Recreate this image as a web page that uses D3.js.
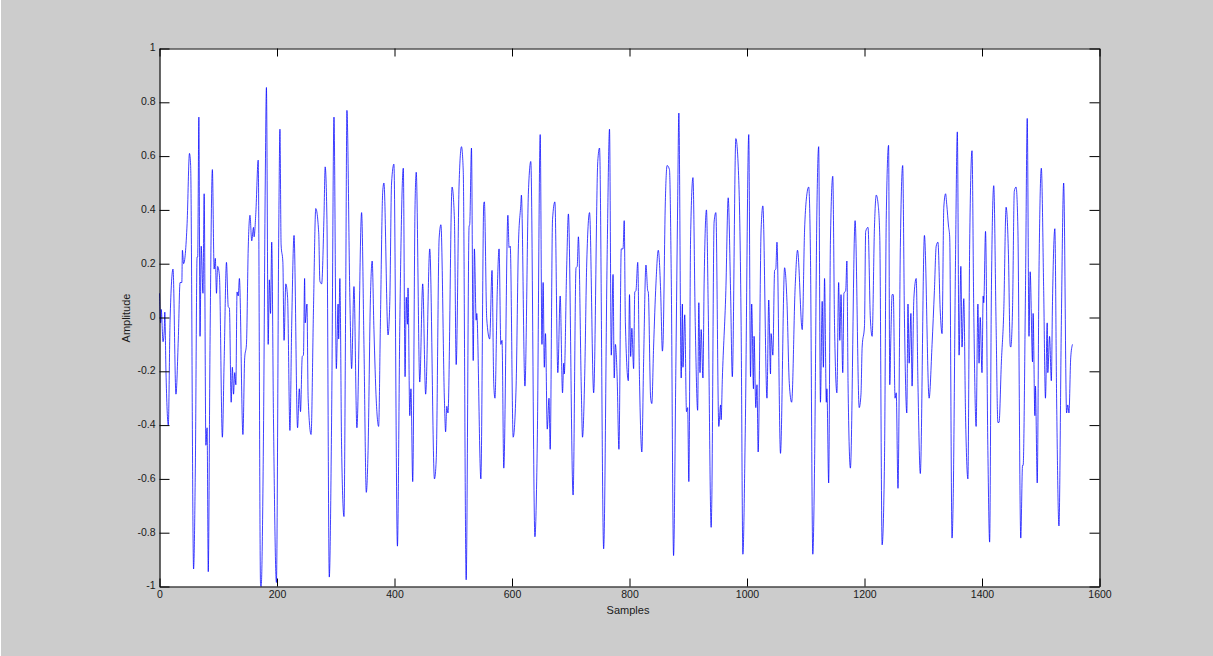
<!DOCTYPE html>
<html>
<head>
<meta charset="utf-8">
<script src="https://cdn.jsdelivr.net/npm/d3@7"></script>
<style>
html,body{margin:0;padding:0;background:#cccccc;overflow:hidden}
svg{display:block}
text{font-family:"Liberation Sans",Arial,sans-serif;fill:#1a1a1a}
</style>
</head>
<body>
<svg id="chart" width="1213" height="656"></svg>
<script>
const xTicks = [0,200,400,600,800,1000,1200,1400,1600];
const yTicks = [-1,-0.8,-0.6,-0.4,-0.2,0,0.2,0.4,0.6,0.8,1];
const xLabel = "Samples";
const yLabel = "Amplitude";
const samples = [
0,2,3,6,8,9,11,15,18,23,28,32,35,38,39,41,47,51,53,58,61,64,65,67,69,71,74,76,79,81,83,86,90,93,95,97,99,102,107,110,114,117,119,122,124,126,128,130,132,134,136,142,145,148,151,154,157,160,161,164,168,172,173,177,180,182,185,187,189,191,194,199,203,205,207,210,212,215,218,222,225,229,235,238,240,243,245,247,248,251,253,258,262,266,271,273,276,280,282,285,289,293,297,301,304,305,307,310,314,317,
319,324,327,331,336,344,348,352,355,359,362,365,369,373,376,380,382,389,392,395,399,405,409,415,418,420,422,423,426,428,431,435,437,443,448,453,460,468,471,476,479,485,487,489,491,498,502,505,510,514,517,522,527,528,531,534,536,539,540,547,552,553,557,562,566,569,571,575,578,581,583,586,593,595,597,602,607,611,615,616,622,628,632,639,643,
648,651,653,655,657,660,663,665,669,673,678,682,686,688,689,693,696,704,709,711,713,718,720,724,727,732,739,746,749,756,762,766,769,772,774,776,779,782,786,789,791,793,798,800,802,804,807,809,811,814,817,821,824,828,831,832,836,838,841,845,849,853,856,857,861,864,868,871,875,879,882,884,888,890,891,894,897,899,901,904,908,912,916,918,920,922,925,927,931,934,939,940,944,947,952,955,956,958,964,
968,972,975,981,986,990,993,997,1003,1006,1008,1011,1012,1015,1017,1019,1024,1027,1034,1037,1040,1041,1044,1047,1049,1051,1057,1064,1068,1072,1076,1082,1086,1094,1098,1101,1105,1108,1112,1115,1119,1122,1125,1128,1130,1132,1135,1136,1139,1142,1146,1149,1153,1156,1158,1160,1163,1165,1168,1170,1172,1176,1184,1191,1194,1196,1200,1202,1206,1210,1213,1217,1220,1223,1226,1230,1234,1237,1241,1243,1245,1247,1249,1252,1254,1257,1261,1265,1268,1272,1274,1276,1279,
1281,1284,1288,1291,1295,1302,1310,1315,1319,1322,1325,1329,1332,1335,1338,1340,1343,1345,1349,1351,1355,1358,1361,1364,1366,1369,1372,1376,1379,1383,1386,1390,1393,1395,1397,1400,1402,1403,1406,1410,1413,1416,1420,1424,1427,1429,1433,1437,1441,1445,1448,1449,1452,1455,1458,1461,1466,1469,1470,1474,1477,1480,1482,1486,1487,1490,1491,1494,1497,1501,1505,1508,1511,1512,1515,1518,1520,1524,1527,1531,1535,1539,1544,1546,1548,1551,1554];
const amplitudes = [
0.09,-0.02,0.03,-0.09,-0.05,0.02,-0.2,-0.40,-0.01,0.18,-0.285,-0.08,0.13,0.13,0.25,0.20,0.35,0.61,0.565,-0.935,-0.56,0.225,0.225,0.745,-0.07,0.265,0.09,0.46,-0.475,-0.41,-0.945,-0.1,0.55,0.18,0.22,0.09,0.19,0.155,-0.445,-0.165,0.205,0.04,0.035,-0.315,-0.185,-0.285,-0.205,-0.25,0.095,0.08,0.145,-0.435,-0.15,-0.1,0.255,0.38,0.285,0.335,0.30,0.39,0.585,-0.995,-1.0,-0.43,0.5,0.855,-0.1,0.14,0.015,0.28,-0.375,-0.985,0.325,0.70,0.27,0.205,-0.085,0.125,0.075,-0.42,-0.03,0.305,-0.41,-0.265,-0.35,-0.145,-0.14,0.145,-0.02,0.05,-0.3,-0.435,0.02,0.405,0.315,0.135,0.125,0.38,0.56,0.365,-0.965,-0.365,0.745,-0.19,0.05,-0.08,0.145,-0.49,-0.74,0.10,
0.77,0.075,-0.19,0.115,-0.41,0.39,-0.10,-0.65,-0.495,0.07,0.21,-0.045,-0.31,-0.405,-0.02,0.47,0.50,-0.065,0.06,0.5,0.57,-0.85,-0.03,0.555,-0.22,0.075,-0.025,0.11,-0.365,-0.265,-0.61,0.42,0.54,-0.24,0.125,-0.285,0.255,-0.60,-0.53,0.295,0.345,-0.31,-0.425,-0.33,-0.355,0.485,0.365,-0.175,0.5,0.635,0.545,-0.975,0.34,0.345,0.63,-0.16,0.255,-0.01,0.015,-0.6,0.425,0.43,-0.005,-0.08,0.175,-0.25,-0.30,0.105,0.255,-0.10,-0.085,-0.56,0.38,0.26,0.265,-0.445,-0.255,0.275,0.42,0.455,-0.255,0.47,0.58,-0.815,-0.47,
0.68,-0.10,0.13,-0.185,-0.06,-0.415,-0.30,-0.49,0.365,0.43,-0.205,0.08,-0.28,-0.17,-0.21,0.18,0.385,-0.66,0.185,0.19,0.30,-0.27,-0.445,-0.19,0.185,0.39,-0.28,0.58,0.63,-0.86,0.235,0.70,-0.14,0.16,-0.225,-0.10,-0.225,-0.49,0.255,0.255,0.36,-0.02,-0.235,0.085,-0.145,-0.04,-0.19,0.095,0.10,0.205,-0.23,-0.5,-0.165,0.195,0.10,0.095,-0.30,-0.32,-0.11,0.125,0.25,0.10,-0.125,-0.10,0.43,0.565,0.55,0.165,-0.885,-0.165,0.43,0.76,-0.225,0.05,-0.185,0.01,-0.35,-0.335,-0.61,0.30,0.52,-0.03,-0.345,0.055,-0.205,-0.045,-0.225,0.125,0.40,0.035,-0.78,-0.695,0.355,0.39,-0.405,-0.325,-0.38,-0.23,0.10,
0.445,0.10,-0.22,0.665,0.51,-0.03,-0.88,-0.43,0.68,-0.22,0.05,-0.265,-0.07,-0.335,-0.25,-0.50,0.325,0.415,-0.30,0.065,-0.21,-0.06,-0.14,0.175,0.18,0.28,-0.505,0.185,0.06,-0.245,-0.315,0.115,0.25,-0.045,0.325,0.44,0.485,0.235,-0.88,-0.55,0.40,0.635,-0.315,0.06,-0.185,0.145,-0.315,-0.265,-0.615,0.285,0.525,-0.03,-0.28,0.13,-0.085,0.085,-0.205,0.09,0.10,0.21,-0.245,-0.56,0.36,-0.335,-0.285,-0.11,-0.03,0.32,0.335,-0.005,-0.07,0.34,0.455,0.425,0.30,-0.845,-0.535,0.365,0.64,-0.25,-0.06,0.085,0.085,-0.30,-0.28,-0.635,0.26,0.565,-0.005,-0.355,0.05,-0.17,0.015,
-0.255,0.07,0.145,-0.25,-0.58,0.305,-0.30,-0.10,0.10,0.265,0.28,0.02,-0.06,0.41,0.46,0.42,0.34,0.30,-0.82,-0.67,0.235,0.69,-0.14,0.19,-0.11,0.07,-0.365,-0.60,0.27,0.62,0.02,-0.405,0.05,-0.17,0.0,-0.205,0.08,0.055,0.32,-0.495,-0.835,0.10,0.49,-0.03,-0.39,-0.39,-0.165,0.02,0.41,0.235,-0.105,-0.11,0.035,0.47,0.485,0.34,-0.82,-0.55,-0.55,0.10,0.74,-0.07,0.17,-0.165,0.015,-0.365,-0.255,-0.615,0.165,0.555,0.10,-0.30,-0.02,-0.205,-0.07,-0.235,0.06,0.33,-0.30,-0.775,-0.03,0.50,-0.355,-0.325,-0.355,-0.15,-0.10];

const frameLeft = 159.5, frameRight = 1099.5, frameTop = 48.5, frameBottom = 586.5;
const x = d3.scaleLinear().domain([0,1600]).range([frameLeft,frameRight]);
const y = d3.scaleLinear().domain([-1,1]).range([frameBottom,frameTop]);
const svg = d3.select("#chart");

svg.append("rect").attr("x",0).attr("y",0).attr("width",1213).attr("height",656).attr("fill","#cccccc");
svg.append("rect").attr("x",0).attr("y",0).attr("width",1).attr("height",656).attr("fill","#ffffff");
svg.append("rect").attr("x",frameLeft).attr("y",frameTop).attr("width",frameRight-frameLeft).attr("height",frameBottom-frameTop).attr("fill","#ffffff");

const points = samples.map((s,i)=>[s,amplitudes[i]]);
svg.append("path").datum(points)
  .attr("fill","none").attr("stroke","#0000ff").attr("stroke-width",0.75)
  .attr("d",d3.line().curve(d3.curveMonotoneX).x(d=>x(d[0])).y(d=>y(d[1])));

function styleAxis(g){
  g.selectAll(".domain").attr("stroke","#000").attr("stroke-width",1.2);
  g.selectAll(".tick line").attr("stroke","#000");
  g.selectAll("text").attr("fill","#1a1a1a").style("font-size","10.5px")
   .style("font-family",'"Liberation Sans",Arial,sans-serif');
}
const fmt = d=>String(d);
svg.append("g").attr("transform",`translate(0,${frameBottom})`)
  .call(d3.axisBottom(x).tickValues(xTicks).tickFormat(fmt).tickSizeInner(-8).tickSizeOuter(0).tickPadding(4)).call(styleAxis);
svg.append("g").attr("transform",`translate(0,${frameTop})`)
  .call(d3.axisTop(x).tickValues(xTicks).tickFormat("").tickSizeInner(-8).tickSizeOuter(0)).call(styleAxis);
const yAxisG = svg.append("g").attr("transform",`translate(${frameLeft},0)`)
  .call(d3.axisLeft(y).tickValues(yTicks).tickFormat(fmt).tickSizeInner(-10).tickSizeOuter(0).tickPadding(4)).call(styleAxis);
yAxisG.selectAll("text").attr("dy","0.22em");
svg.append("g").attr("transform",`translate(${frameRight},0)`)
  .call(d3.axisRight(y).tickValues(yTicks).tickFormat("").tickSizeInner(-10).tickSizeOuter(0)).call(styleAxis);

svg.append("text").attr("x",628).attr("y",614).attr("text-anchor","middle").style("font-size","11px").text(xLabel);
svg.append("text").attr("transform","translate(130,318) rotate(-90)").attr("text-anchor","middle").style("font-size","11px").text(yLabel);
</script>
</body>
</html>
